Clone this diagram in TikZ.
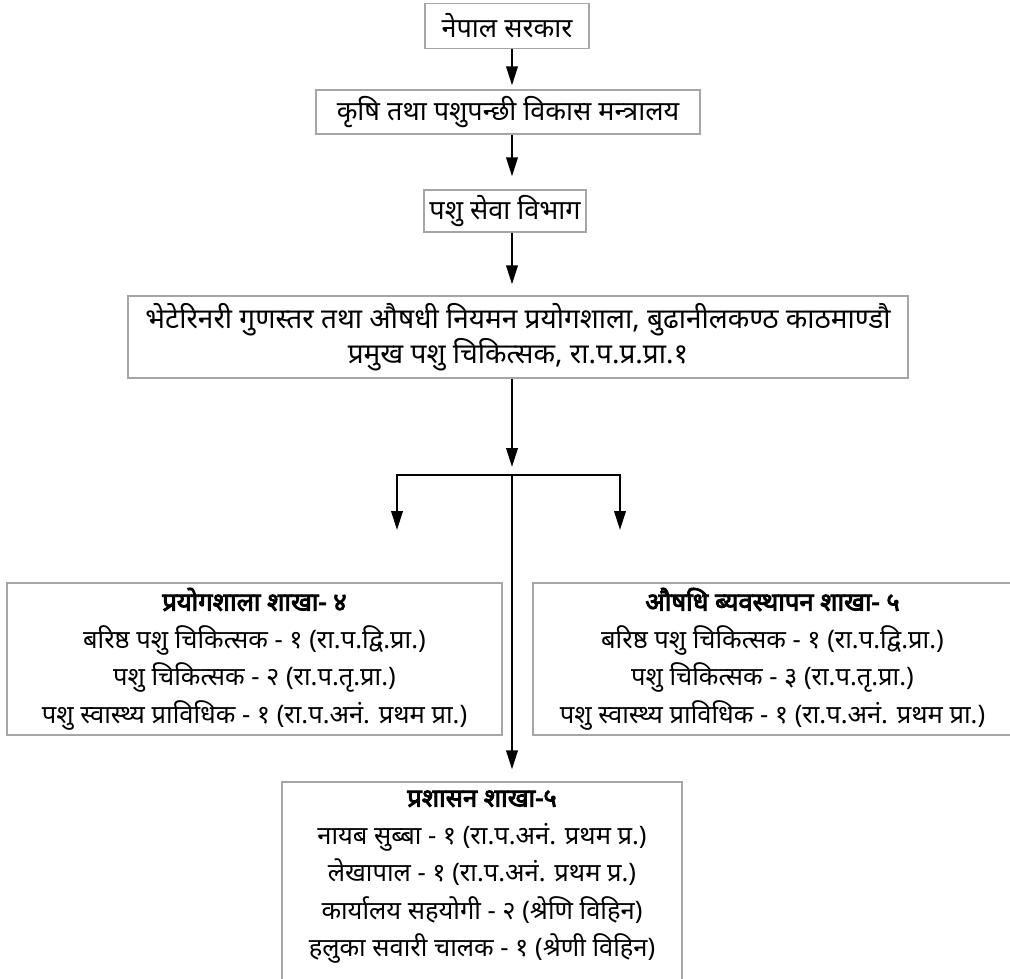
\documentclass[tikz,border=0pt]{standalone}
\usepackage{fontspec}
\newfontfamily\dev[Script=Devanagari]{Noto Sans}
\newfontfamily\devb[Script=Devanagari, FakeBold=3.5]{Noto Sans}
\usetikzlibrary{arrows.meta}
\begin{document}
\begin{tikzpicture}[x=1pt,y=1pt,
  box/.style={draw=black!35, line width=1.3pt, inner sep=0pt, align=center},
  txt/.style={font=\dev\fontsize{27}{38}\selectfont},
  txtb/.style={font=\dev\fontsize{28}{35}\selectfont},
  txts/.style={font=\dev\fontsize{25.5}{37.5}\selectfont},
  arr/.style={line width=2.2pt, line join=miter, -{Triangle[length=19pt,width=11.5pt]}},
  ln/.style={line width=2.2pt}]
\useasboundingbox (0,0) rectangle (1010,-979);
\clip (0,0) rectangle (1010,-979);
\coordinate (xs) at (512,0);
\node[box, txt, minimum width=164, minimum height=45] (b1) at (507,-26) {नेपाल सरकार};
\node[box, txt, minimum width=384, minimum height=44] (b2) at (508,-112) {कृषि तथा पशुपन्छी विकास मन्त्रालय};
\node[box, txt, minimum width=162, minimum height=42] (b3) at (505,-211) {पशु सेवा विभाग};
\node[box, txtb, minimum width=780, minimum height=82] (b4) at (518,-337) {भेटेरिनरी गुणस्तर तथा औषधी नियमन प्रयोगशाला, बुढानीलकण्ठ काठमाण्डौ\\प्रमुख पशु चिकित्सक, रा.प.प्र.प्रा.१};
\node[box, txts, minimum width=495, minimum height=152] (b5) at (254.5,-659) {{\devb प्रयोगशाला शाखा- ४}\\बरिष्ठ पशु चिकित्सक - १ (रा.प.द्वि.प्रा.)\\पशु चिकित्सक - २ (रा.प.तृ.प्रा.)\\पशु स्वास्थ्य प्राविधिक - १ (रा.प.अनं. प्रथम प्रा.)};
\node[box, txts, minimum width=479, minimum height=152] (b6) at (772.5,-659) {{\devb औषधि ब्यवस्थापन शाखा- ५}\\बरिष्ठ पशु चिकित्सक - १ (रा.प.द्वि.प्रा.)\\पशु चिकित्सक - ३ (रा.प.तृ.प्रा.)\\पशु स्वास्थ्य प्राविधिक - १ (रा.प.अनं. प्रथम प्रा.)};
\node[box, minimum width=400, minimum height=214] (b7) at (482,-889) {};
\node[txts, align=center, anchor=center, inner sep=0pt] (t7) at (482,-877) {{\devb प्रशासन शाखा-५}\\नायब सुब्बा - १ (रा.प.अनं. प्रथम प्र.)\\लेखापाल - १ (रा.प.अनं. प्रथम प्र.)\\कार्यालय सहयोगी - २ (श्रेणि विहिन)\\हलुका सवारी चालक - १ (श्रेणी विहिन)};
\draw[arr, shorten >=4pt] (b1.south -| xs) -- (b2.north -| xs);
\draw[arr, shorten >=13pt] (b2.south -| xs) -- (b3.north -| xs);
\draw[arr, shorten >=11pt] (b3.south -| xs) -- (b4.north -| xs);
\coordinate (j) at (512,-475);
\coordinate (tl) at (397,-530);
\coordinate (tr) at (620,-530);
\draw[arr, shorten >=8pt] (b4.south -| xs) -- (j);
\draw[arr] (j) -| (tl);
\draw[arr] (j) -| (tr);
\draw[arr, shorten >=12pt] (j) -- (b7.north -| xs);
\end{tikzpicture}
\end{document}
